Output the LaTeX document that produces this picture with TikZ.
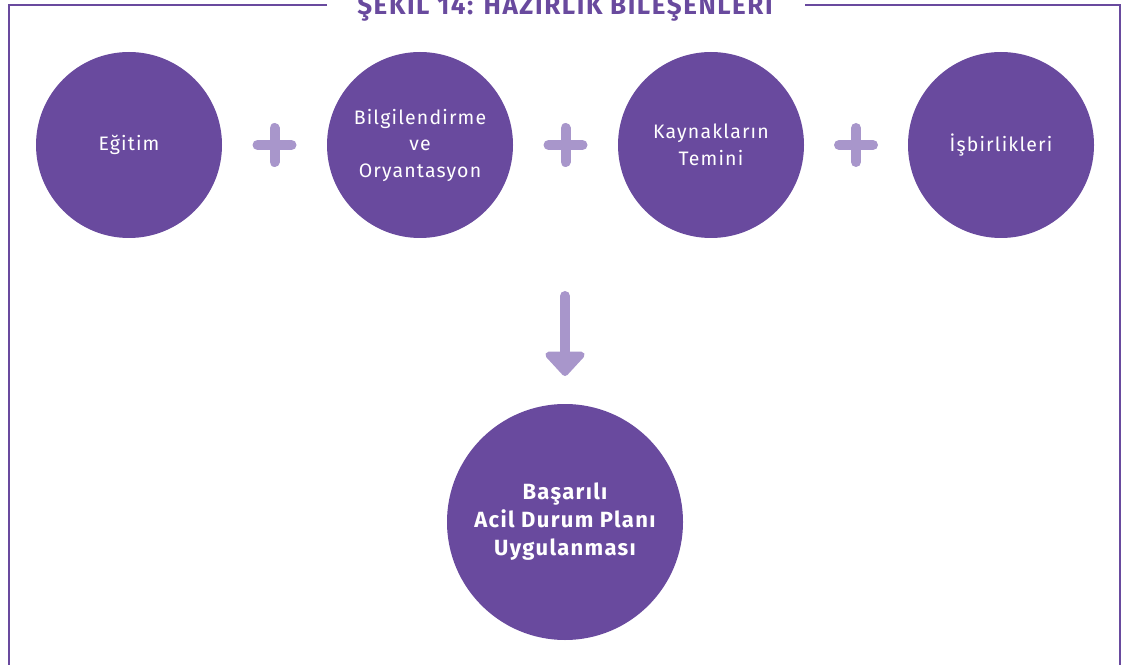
\documentclass[tikz,border=0pt]{standalone}
\usepackage{fontspec}
\setmainfont{Fira Sans}[LetterSpace=6.0]
\usetikzlibrary{arrows.meta,positioning,calc}
\definecolor{deeppurple}{HTML}{694A9E}
\definecolor{lightpurple}{HTML}{A896CB}
\newcommand{\plussign}[1]{\draw[plusbar] ($(#1)+(-17,0)$) -- ($(#1)+(17,0)$) ($(#1)+(0,-17)$) -- ($(#1)+(0,17)$)}

\begin{document}
\begin{tikzpicture}
[
x=1pt, y=1pt,
frame/.style    = {draw=deeppurple, line width=2.4pt},
step circle/.style = {circle, fill=deeppurple, text=white, minimum size=186pt, inner sep=0pt,
                   align=center, font=\fontsize{19.5}{26.5}\selectfont},
goal/.style     = {circle, fill=deeppurple, text=white, minimum size=236pt, inner sep=0pt,
                   align=center, font=\fontsize{22}{28}\selectfont\bfseries},
plusbar/.style  = {draw=lightpurple, line width=10pt, line cap=round},
downarrow/.style = {draw=lightpurple, line width=10pt, line cap=round,
                   -{Triangle[width=46pt,length=26pt,round=false]}},
]
\useasboundingbox (0,0) rectangle (1124,665);

% frame and title
\draw[frame] (327,660) -| (9,0);
\draw[frame] (805,660) -| (1120,0);
\node[anchor=base, text=deeppurple, font=\fontsize{26}{30}\selectfont\bfseries] (title) at (565,650) {ŞEKİL 14: HAZIRLIK BİLEŞENLERİ};

% components
\node at (129,520)[step circle] (egitim) {Eğitim};
\node at (420,520)[step circle] (bilgi) {Bilgilendirme\\ve\\Oryantasyon};
\node at (711,520)[step circle] (kaynak) {Kaynakların\\Temini};
\node at (1001,520)[step circle] (isbirligi) {İşbirlikleri};

\plussign{$(egitim)!0.5!(bilgi)$};
\plussign{$(bilgi)!0.5!(kaynak)$};
\plussign{$(kaynak)!0.5!(isbirligi)$};

% result
\node at (565,143)[goal] (plan) {Başarılı\\Acil Durum Planı\\Uygulanması};
\coordinate (arrtop) at (565,369);
\coordinate (arrend) at (565,289);
\draw[downarrow] (arrtop) -- (arrend);
\end{tikzpicture}
\end{document}
